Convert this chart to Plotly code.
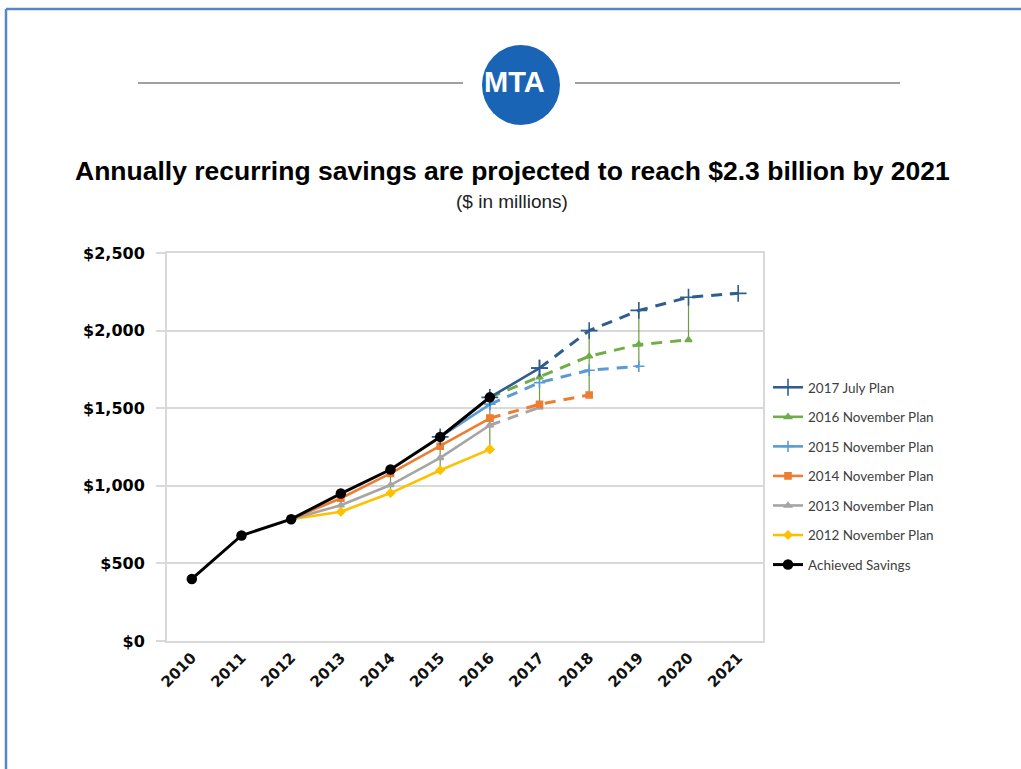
import plotly.graph_objects as go

# ---- data ($ in millions) ----
years = [str(y) for y in range(2010, 2022)]

achieved = [400, 680, 785, 950, 1105, 1315, 1570, None, None, None, None, None]
plan_2012_nov = [None, None, 785, 833, 953, 1100, 1235, None, None, None, None, None]
plan_2013_nov = [None, None, 785, 875, 1005, 1180, 1390, 1505, None, None, None, None]
plan_2014_nov = [None, None, 785, 920, 1080, 1255, 1435, 1525, 1585, None, None, None]
plan_2015_nov = [None, None, None, None, None, 1315, 1525, 1665, 1745, 1770, None, None]
plan_2016_nov = [None, None, None, None, None, 1315, 1570, 1700, 1835, 1910, 1940, None]
plan_2017_jul = [None, None, None, None, None, 1315, 1570, 1758, 2000, 2130, 2215, 2240]

# name, values, colour, marker symbol, marker size, last year drawn solid
plans = [
    ("2017 July Plan", plan_2017_jul, "#2F5E8E", "cross-thin-open", 12, "2017"),
    ("2016 November Plan", plan_2016_nov, "#70AD47", "triangle-up", 6, "2016"),
    ("2015 November Plan", plan_2015_nov, "#5B9BD5", "cross-thin-open", 8, "2016"),
    ("2014 November Plan", plan_2014_nov, "#ED7D31", "square", 6, "2016"),
    ("2013 November Plan", plan_2013_nov, "#A5A5A5", "triangle-up", 6, "2016"),
    ("2012 November Plan", plan_2012_nov, "#FFC000", "diamond", 6, "2016"),
]

W, H = 1021, 769
L, R, T, B = 167, 763, 253, 641  # plot area in pixels


def px(x):
    return (x - L) / (R - L)


def py(y):
    return (B - y) / (B - T)


fig = go.Figure()

# high-low lines joining the top and bottom series value in each year
all_series = [p[1] for p in plans] + [achieved]
hl_x, hl_y = [], []
for i, yr in enumerate(years):
    vals = [s[i] for s in all_series if s[i] is not None]
    if len(vals) > 1 and max(vals) > min(vals):
        hl_x += [yr, yr, None]
        hl_y += [max(vals), min(vals), None]
fig.add_trace(go.Scatter(x=hl_x, y=hl_y, mode="lines",
                         line=dict(color="#6F9A3E", width=1.2),
                         showlegend=False, hoverinfo="skip"))

# plan series: solid for history, dashed for projections
for rank, (name, vals, color, sym, msize, cut) in reversed(list(enumerate(plans))):
    ci = years.index(cut)
    solid = [v if i <= ci else None for i, v in enumerate(vals)]
    dashed = [v if i >= ci else None for i, v in enumerate(vals)]
    mk = dict(symbol=sym, size=msize, color=color,
              line=dict(color=color, width=1.6))
    fig.add_trace(go.Scatter(x=years, y=dashed, mode="lines+markers", name=name,
                             legendgroup=name, showlegend=False,
                             line=dict(color=color, width=3, dash="11px,8px"),
                             marker=mk))
    fig.add_trace(go.Scatter(x=years, y=solid, mode="lines+markers", name=name,
                             legendgroup=name, legendrank=rank + 1,
                             line=dict(color=color, width=2.6), marker=mk))

fig.add_trace(go.Scatter(x=years, y=achieved, mode="lines+markers",
                         name="Achieved Savings", legendgroup="achieved",
                         legendrank=10,
                         line=dict(color="#000000", width=3),
                         marker=dict(symbol="circle", size=10.5, color="#000000")))

# page frame
frame = "#5586C8"
fig.add_shape(type="line", xref="paper", yref="paper",
              x0=px(6), x1=px(W + 2), y0=py(9), y1=py(9),
              line=dict(color=frame, width=2.5))
fig.add_shape(type="line", xref="paper", yref="paper",
              x0=px(6), x1=px(6), y0=py(9), y1=py(H + 2),
              line=dict(color=frame, width=2.5))

# header rule and logo
fig.add_shape(type="line", xref="paper", yref="paper",
              x0=px(138), x1=px(463), y0=py(83), y1=py(83),
              line=dict(color="#808080", width=1.5))
fig.add_shape(type="line", xref="paper", yref="paper",
              x0=px(575), x1=px(900), y0=py(83), y1=py(83),
              line=dict(color="#808080", width=1.5))
fig.add_shape(type="circle", xref="paper", yref="paper",
              x0=px(482), x1=px(560), y0=py(125), y1=py(45),
              fillcolor="#1A64B6", line=dict(width=0))
fig.add_annotation(xref="paper", yref="paper", x=px(514), y=py(82),
                   xanchor="center", yanchor="middle",
                   text="MTA", showarrow=False,
                   font=dict(family="Liberation Sans", size=29,
                             color="#FFFFFF", weight="bold"))

# titles
fig.add_annotation(xref="paper", yref="paper", x=px(512), y=py(171),
                   xanchor="center", yanchor="middle",
                   text="Annually recurring savings are projected to reach $2.3 billion by 2021",
                   showarrow=False,
                   font=dict(family="Liberation Sans", size=26.5, color="#000000",
                             weight="bold"))
fig.add_annotation(xref="paper", yref="paper", x=px(512), y=py(201),
                   xanchor="center", yanchor="middle",
                   text="($ in millions)", showarrow=False,
                   font=dict(family="Liberation Sans", size=19, color="#222222"))

fig.update_layout(
    width=W, height=H,
    margin=dict(l=L, r=W - R, t=T, b=H - B),
    paper_bgcolor="#FFFFFF", plot_bgcolor="#FFFFFF",
    showlegend=True,
    legend=dict(x=px(768), y=py(372), xanchor="left", yanchor="top",
                font=dict(family="Lato", size=13.5, color="#404040"),
                tracegroupgap=9, bgcolor="rgba(0,0,0,0)"),
    xaxis=dict(type="category", categoryorder="array", categoryarray=years,
               range=[-0.5, 11.5], showgrid=False, zeroline=False,
               showline=True, mirror=True, linecolor="#D9D9D9", linewidth=2,
               tickangle=-45, ticks="",
               tickfont=dict(family="DejaVu Sans", size=15, color="#111111",
                             weight="bold")),
    yaxis=dict(range=[0, 2500], dtick=500, tickformat="$,.0f",
               showgrid=True, gridcolor="#D9D9D9", gridwidth=1.5, zeroline=False,
               showline=True, mirror=True, linecolor="#D9D9D9", linewidth=2,
               ticks="outside", ticklen=9, tickcolor="#D9D9D9", tickwidth=1.5,
               ticklabelstandoff=8,
               tickfont=dict(family="DejaVu Sans", size=16, color="#000000",
                             weight="bold")),
)

fig.write_html("out.html")
